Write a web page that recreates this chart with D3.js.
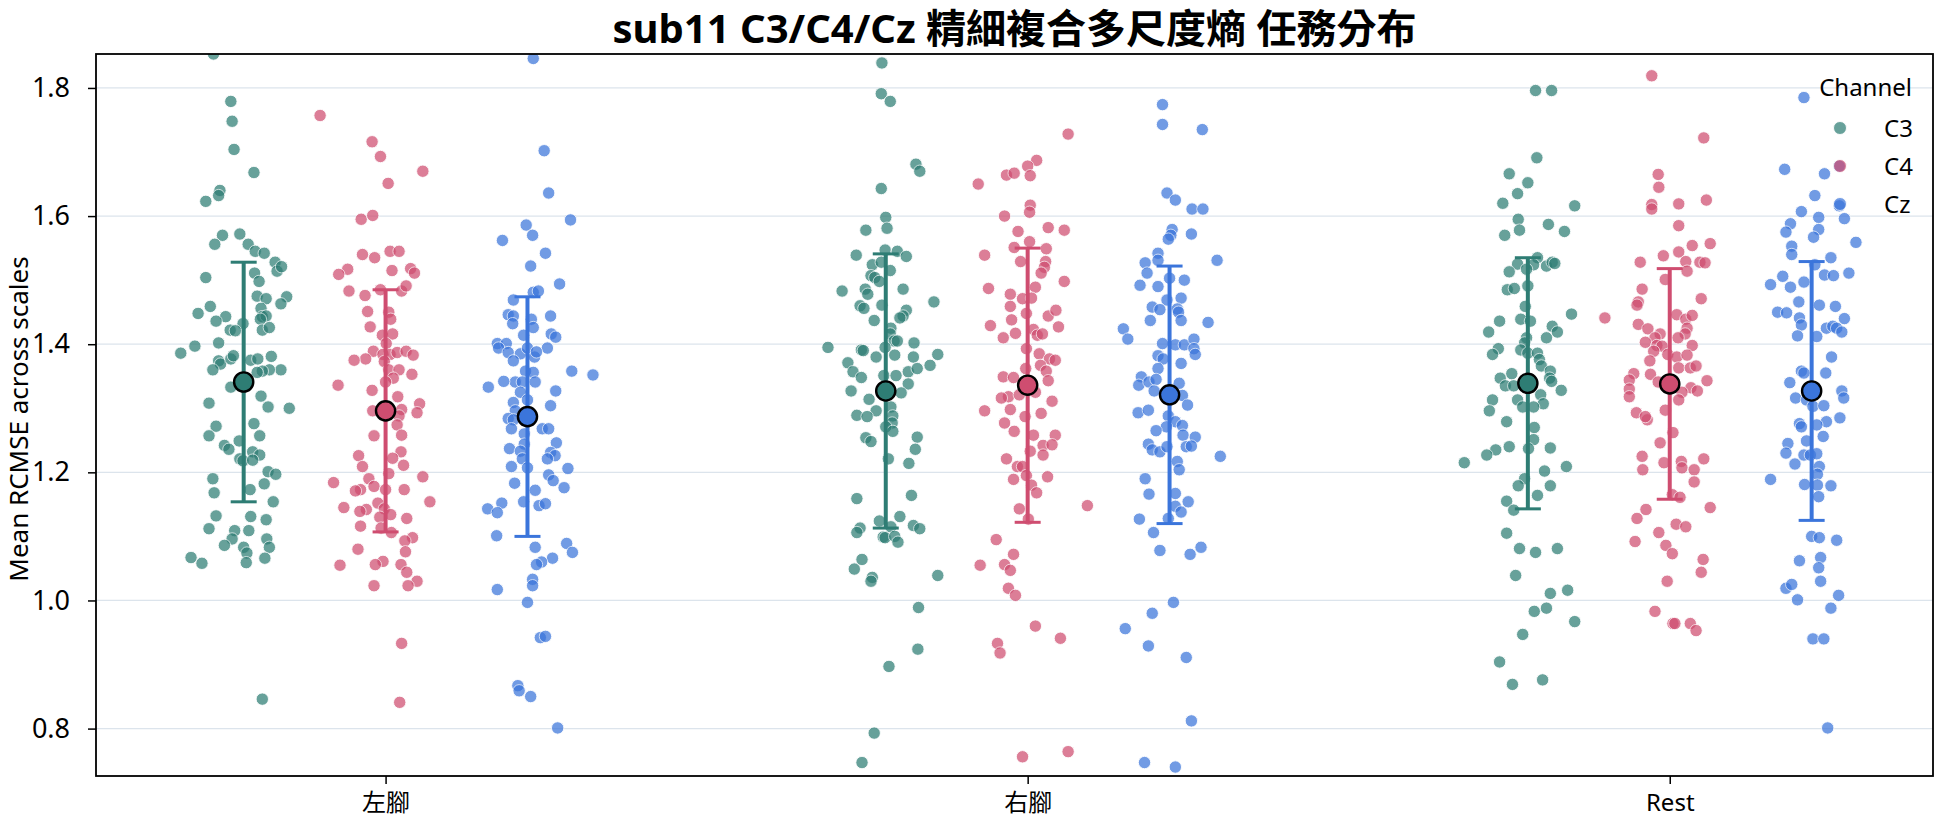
<!DOCTYPE html>
<html><head><meta charset="utf-8">
<script src="https://cdn.jsdelivr.net/npm/d3@7"></script>
<style>
body{margin:0;background:#fff;}
text{font-family:'Noto Sans','Noto Sans CJK TC',sans-serif;fill:#000;}
</style>
</head><body>
<script>
// ---------------- data ----------------
const titleText = "sub11 C3/C4/Cz 精細複合多尺度熵 任務分布";
const yLabel = "Mean RCMSE across scales";
const legendTitle = "Channel";
const categories = ["左腳", "右腳", "Rest"];
const channels = ["C3", "C4", "Cz"];
const yTicks = [0.8, 1.0, 1.2, 1.4, 1.6, 1.8];

const meanC3 = [1.341, 1.327, 1.339];
const meanC4 = [1.296, 1.336, 1.338];
const meanCz = [1.287, 1.321, 1.327];
const sdC3 = [0.187, 0.214, 0.196];
const sdC4 = [0.189, 0.214, 0.180];
const sdCz = [0.187, 0.201, 0.202];

const valC3Left = [1.853,1.779,1.748,1.704,1.668,1.640,1.632,1.623,1.570,1.556,1.572,1.556,1.545,1.542,1.528,1.514,1.521,1.511,1.498,1.504,1.475,1.471,1.474,1.463,1.456,1.459,1.448,1.443,1.436,1.443,1.444,1.439,1.432,1.422,1.421,1.422,1.426,1.402,1.397,1.386,1.374,1.369,1.360,1.377,1.382,1.375,1.377,1.381,1.360,1.360,1.358,1.356,1.333,1.319,1.308,1.302,1.300,1.276,1.272,1.257,1.257,1.249,1.242,1.236,1.232,1.227,1.221,1.218,1.219,1.201,1.197,1.190,1.173,1.182,1.168,1.154,1.132,1.131,1.126,1.112,1.109,1.096,1.109,1.086,1.083,1.096,1.083,1.074,1.059,1.066,1.067,1.058,0.846];
const jitC3Left = [-0.047,-0.020,-0.018,-0.015,0.016,-0.037,-0.039,-0.059,-0.033,-0.045,-0.006,0.007,0.018,0.032,0.049,0.052,0.059,0.017,0.024,-0.059,0.021,0.035,0.067,0.058,0.027,-0.052,-0.071,-0.028,-0.043,0.029,0.035,0.026,-0.001,-0.021,-0.013,0.029,0.040,-0.039,-0.076,-0.098,-0.039,-0.036,-0.048,-0.020,-0.016,0.011,0.022,0.043,0.058,0.040,0.029,0.021,-0.020,0.027,-0.054,0.038,0.071,0.016,-0.043,-0.054,0.025,-0.007,-0.030,-0.023,0.014,0.025,-0.006,-0.001,0.014,0.038,0.050,-0.048,0.010,0.032,-0.046,0.046,-0.043,0.011,0.035,-0.054,-0.014,-0.018,0.008,-0.030,0.000,0.036,0.040,0.005,0.004,0.033,-0.082,-0.065,0.029];

const valC4Left = [1.757,1.716,1.693,1.670,1.651,1.595,1.601,1.540,1.535,1.545,1.545,1.515,1.518,1.511,1.517,1.509,1.483,1.476,1.485,1.483,1.491,1.451,1.450,1.439,1.427,1.414,1.416,1.401,1.389,1.377,1.375,1.384,1.384,1.387,1.389,1.383,1.373,1.360,1.360,1.353,1.347,1.341,1.336,1.328,1.318,1.307,1.293,1.298,1.296,1.288,1.274,1.258,1.257,1.232,1.222,1.226,1.209,1.211,1.198,1.193,1.184,1.190,1.173,1.171,1.178,1.173,1.173,1.154,1.145,1.142,1.139,1.152,1.143,1.134,1.130,1.128,1.116,1.113,1.106,1.098,1.093,1.076,1.080,1.055,1.061,1.056,1.056,1.044,1.030,1.023,1.023,0.933,0.841];
const jitC4Left = [-0.102,-0.021,-0.008,0.058,0.004,-0.038,-0.020,-0.036,-0.017,0.007,0.021,0.010,0.039,0.045,-0.059,-0.073,-0.057,-0.032,-0.008,0.025,0.032,-0.028,0.005,0.008,-0.024,-0.005,0.011,0.001,-0.019,-0.031,-0.049,-0.004,0.007,0.018,0.032,0.043,-0.002,0.005,0.021,0.041,0.012,0.000,-0.074,-0.021,0.019,0.053,0.049,0.025,-0.020,0.021,0.018,0.025,-0.018,0.024,0.011,-0.042,-0.036,0.028,0.005,0.058,-0.081,-0.026,-0.039,-0.047,-0.018,0.000,0.029,0.069,-0.065,-0.030,-0.040,-0.012,-0.002,0.008,-0.009,0.033,-0.039,-0.007,0.009,0.042,0.030,0.031,-0.043,-0.071,-0.004,-0.016,0.024,0.033,0.049,0.035,-0.018,0.025,0.022];

const valCzLeft = [1.846,1.702,1.636,1.594,1.586,1.570,1.562,1.542,1.522,1.494,1.481,1.483,1.469,1.444,1.446,1.444,1.432,1.439,1.426,1.414,1.416,1.411,1.401,1.401,1.394,1.387,1.385,1.374,1.394,1.394,1.380,1.388,1.358,1.352,1.358,1.356,1.341,1.342,1.333,1.341,1.341,1.325,1.327,1.313,1.309,1.304,1.296,1.284,1.282,1.268,1.268,1.268,1.260,1.246,1.244,1.237,1.233,1.231,1.226,1.221,1.221,1.209,1.207,1.206,1.196,1.187,1.176,1.183,1.172,1.154,1.152,1.148,1.151,1.143,1.137,1.101,1.083,1.089,1.075,1.066,1.060,1.056,1.033,1.023,1.017,0.997,0.942,0.944,0.867,0.859,0.850,0.801];
const jitCzLeft = [0.009,0.026,0.033,0.067,-0.002,0.008,-0.039,0.028,0.005,0.050,0.009,0.017,-0.022,0.036,-0.030,-0.022,-0.023,0.006,0.009,-0.006,0.037,0.044,-0.047,-0.033,-0.045,-0.030,-0.011,-0.022,0.031,0.000,0.011,0.014,0.069,0.102,-0.003,0.009,-0.019,-0.037,-0.061,-0.008,0.012,-0.011,0.044,0.000,-0.022,0.036,-0.019,-0.030,-0.022,-0.025,0.023,0.033,-0.005,0.045,-0.005,-0.028,-0.011,0.036,0.043,0.031,-0.008,-0.025,0.000,0.063,0.033,0.040,0.057,-0.020,0.012,-0.006,-0.040,0.018,0.028,-0.062,-0.047,-0.048,0.012,0.061,0.070,0.039,0.022,0.014,0.008,0.008,-0.047,0.000,0.020,0.028,-0.015,-0.013,0.005,0.047];

const valC3Right = [1.839,1.791,1.779,1.681,1.670,1.643,1.598,1.581,1.578,1.539,1.547,1.545,1.537,1.524,1.528,1.515,1.507,1.504,1.498,1.486,1.483,1.486,1.478,1.466,1.460,1.456,1.461,1.453,1.444,1.441,1.437,1.425,1.416,1.405,1.405,1.402,1.395,1.391,1.390,1.395,1.380,1.383,1.380,1.384,1.371,1.357,1.348,1.351,1.351,1.357,1.362,1.367,1.338,1.327,1.324,1.314,1.302,1.296,1.289,1.287,1.288,1.277,1.271,1.264,1.254,1.248,1.255,1.236,1.221,1.214,1.159,1.164,1.131,1.124,1.113,1.106,1.117,1.112,1.099,1.098,1.115,1.100,1.091,1.064,1.049,1.036,1.030,1.039,0.989,0.924,0.897,0.793,0.747];
const jitC3Right = [-0.006,-0.007,0.007,0.047,0.053,-0.007,0.000,0.002,-0.031,-0.046,-0.001,0.018,0.032,-0.021,-0.007,0.007,-0.023,-0.017,-0.010,0.027,-0.068,-0.032,-0.028,0.075,-0.040,-0.034,-0.006,0.032,0.027,0.022,-0.018,0.008,0.007,0.013,0.018,0.044,-0.090,-0.038,-0.035,-0.001,-0.015,0.014,0.043,0.081,-0.059,-0.051,-0.038,-0.003,0.016,0.035,0.049,0.069,0.035,-0.054,0.024,-0.026,0.008,-0.015,-0.045,-0.029,0.011,0.010,0.000,0.011,-0.031,-0.023,0.049,0.046,0.004,0.036,-0.045,0.040,0.022,-0.010,-0.040,-0.045,0.043,0.053,-0.004,-0.001,0.008,0.014,0.019,-0.037,-0.049,-0.021,-0.023,0.081,0.051,0.050,0.005,-0.018,-0.037];

const valC4Right = [1.728,1.687,1.678,1.664,1.667,1.663,1.650,1.617,1.606,1.600,1.582,1.576,1.578,1.560,1.551,1.549,1.539,1.529,1.529,1.520,1.511,1.498,1.487,1.489,1.478,1.471,1.472,1.459,1.448,1.444,1.453,1.438,1.429,1.427,1.410,1.417,1.423,1.414,1.416,1.393,1.385,1.377,1.375,1.367,1.358,1.343,1.362,1.349,1.348,1.325,1.318,1.316,1.321,1.311,1.296,1.298,1.292,1.287,1.277,1.264,1.258,1.258,1.242,1.243,1.233,1.227,1.221,1.209,1.209,1.195,1.189,1.193,1.180,1.168,1.148,1.143,1.127,1.095,1.072,1.055,1.056,1.047,1.019,1.008,0.960,0.941,0.933,0.918,0.756,0.764];
const jitC4Right = [0.063,0.014,0.000,-0.033,-0.021,0.004,-0.077,0.004,0.003,-0.036,0.032,-0.015,0.057,0.003,-0.021,0.029,-0.067,-0.011,0.028,0.026,0.021,0.057,-0.061,0.012,-0.027,-0.008,0.006,-0.027,-0.002,0.032,0.044,-0.025,-0.058,0.048,-0.038,-0.019,0.009,0.015,0.023,-0.002,0.018,0.034,0.043,0.020,0.029,0.032,-0.003,-0.038,-0.022,0.012,-0.030,-0.041,-0.013,0.038,-0.067,-0.027,0.021,-0.004,-0.036,-0.021,0.009,0.043,0.024,0.038,0.004,0.024,-0.033,-0.016,-0.008,-0.002,-0.022,0.031,0.006,0.014,0.093,-0.013,0.001,-0.049,-0.022,-0.074,-0.036,-0.027,-0.030,-0.019,0.012,0.051,-0.047,-0.043,-0.008,0.063];

const valCzRight = [1.774,1.743,1.735,1.636,1.625,1.611,1.611,1.579,1.570,1.564,1.572,1.542,1.531,1.527,1.511,1.531,1.492,1.490,1.503,1.500,1.469,1.472,1.458,1.454,1.455,1.450,1.437,1.437,1.434,1.424,1.408,1.401,1.399,1.399,1.408,1.393,1.384,1.382,1.377,1.370,1.362,1.349,1.336,1.341,1.345,1.327,1.339,1.320,1.305,1.293,1.297,1.288,1.279,1.273,1.271,1.265,1.258,1.255,1.244,1.235,1.232,1.240,1.240,1.241,1.225,1.217,1.204,1.190,1.166,1.167,1.154,1.147,1.138,1.128,1.127,1.106,1.078,1.072,1.083,0.997,0.980,0.956,0.929,0.911,0.812,0.747,0.740];
const jitCzRight = [-0.011,-0.011,0.051,-0.004,0.009,0.035,0.052,0.004,0.002,-0.002,0.034,-0.018,-0.018,-0.038,-0.035,0.074,-0.046,-0.018,0.000,0.023,-0.004,0.018,-0.027,-0.015,0.012,0.014,0.018,-0.030,0.060,-0.072,-0.065,-0.011,0.009,0.023,0.038,0.038,0.040,-0.018,-0.010,0.018,-0.018,-0.044,-0.048,-0.032,-0.021,-0.024,0.015,0.020,0.028,-0.049,-0.033,-0.002,0.009,0.020,-0.005,-0.021,0.021,0.040,-0.033,-0.027,-0.015,-0.004,0.026,0.034,0.079,0.012,0.015,-0.038,-0.032,0.009,0.029,0.009,0.018,-0.002,-0.047,-0.025,-0.015,0.032,0.049,0.006,-0.027,-0.069,-0.033,0.026,0.034,-0.039,0.009];

const valC3Rest = [1.796,1.796,1.691,1.666,1.652,1.635,1.620,1.616,1.595,1.578,1.570,1.587,1.576,1.535,1.525,1.524,1.522,1.528,1.526,1.513,1.517,1.485,1.487,1.491,1.459,1.447,1.436,1.439,1.436,1.419,1.428,1.419,1.410,1.410,1.402,1.393,1.384,1.391,1.386,1.386,1.376,1.366,1.358,1.347,1.342,1.328,1.354,1.347,1.335,1.335,1.321,1.313,1.313,1.307,1.296,1.302,1.302,1.279,1.270,1.251,1.240,1.237,1.238,1.235,1.227,1.215,1.209,1.202,1.179,1.190,1.179,1.164,1.155,1.141,1.105,1.081,1.075,1.081,1.039,1.011,1.016,0.988,0.983,0.967,0.947,0.904,0.869,0.876];
const jitC3Rest = [0.012,0.037,0.014,-0.029,0.000,-0.016,-0.039,0.073,-0.015,-0.013,-0.036,0.032,0.057,0.015,-0.016,0.009,0.029,0.038,0.042,-0.029,-0.002,-0.032,-0.021,0.000,-0.004,0.068,-0.044,-0.011,0.004,-0.061,0.038,0.046,0.029,-0.002,-0.005,-0.046,-0.055,-0.011,0.000,0.015,0.018,0.021,0.035,0.034,0.037,0.052,-0.025,-0.043,-0.035,-0.022,0.020,-0.055,-0.016,0.024,-0.060,-0.008,0.009,-0.033,0.010,0.009,-0.029,0.001,0.035,-0.050,-0.064,-0.099,0.060,0.026,0.035,-0.005,-0.015,0.015,-0.033,-0.022,-0.033,-0.013,0.012,0.046,-0.019,0.035,0.062,0.029,0.010,0.073,-0.008,-0.044,-0.024,0.023];

const valC4Rest = [1.819,1.722,1.665,1.645,1.618,1.611,1.619,1.625,1.585,1.554,1.557,1.538,1.544,1.528,1.529,1.514,1.528,1.527,1.501,1.486,1.466,1.461,1.471,1.441,1.431,1.424,1.446,1.439,1.445,1.425,1.416,1.416,1.410,1.410,1.403,1.398,1.397,1.398,1.389,1.384,1.380,1.383,1.374,1.353,1.363,1.363,1.366,1.354,1.344,1.330,1.318,1.341,1.343,1.332,1.327,1.325,1.313,1.297,1.293,1.282,1.287,1.262,1.246,1.225,1.204,1.215,1.217,1.207,1.221,1.204,1.185,1.165,1.161,1.142,1.145,1.128,1.119,1.115,1.106,1.092,1.086,1.073,1.064,1.044,1.030,0.983,0.964,0.964,0.964,0.953];
const jitC4Rest = [-0.028,0.053,-0.018,-0.017,-0.028,-0.028,0.014,0.057,0.014,0.035,0.063,-0.010,0.014,-0.046,0.025,0.027,0.047,0.055,-0.007,-0.043,-0.049,-0.051,0.049,-0.101,-0.049,-0.034,0.011,0.025,0.035,0.027,0.024,-0.015,-0.023,0.013,-0.038,-0.020,-0.012,0.035,-0.025,-0.003,0.011,0.027,-0.031,-0.030,0.014,0.032,0.041,-0.056,-0.063,-0.063,-0.063,-0.018,0.058,0.033,0.043,0.019,0.014,-0.007,-0.052,-0.035,-0.038,0.005,-0.015,-0.043,-0.042,-0.009,0.018,0.019,0.053,0.038,0.038,0.004,0.016,-0.037,0.063,-0.051,0.010,0.025,-0.017,-0.054,-0.006,0.004,0.052,0.049,-0.004,-0.023,0.005,0.008,0.032,0.041];

const valCzRest = [1.785,1.673,1.666,1.678,1.632,1.616,1.607,1.598,1.596,1.588,1.575,1.579,1.567,1.559,1.553,1.540,1.535,1.524,1.506,1.493,1.489,1.497,1.508,1.507,1.511,1.466,1.461,1.459,1.450,1.449,1.441,1.430,1.440,1.425,1.428,1.425,1.419,1.413,1.412,1.380,1.358,1.355,1.355,1.340,1.327,1.316,1.316,1.313,1.303,1.304,1.285,1.279,1.276,1.271,1.274,1.256,1.249,1.245,1.230,1.213,1.227,1.227,1.229,1.209,1.197,1.189,1.181,1.180,1.179,1.162,1.100,1.098,1.094,1.062,1.067,1.051,1.019,1.025,1.030,1.001,1.008,0.988,0.940,0.940,0.801];
const jitCzRest = [-0.012,-0.042,0.020,0.043,0.005,0.043,-0.016,0.011,0.051,-0.033,-0.040,0.011,0.003,0.069,-0.031,-0.031,0.030,0.005,-0.045,-0.064,-0.033,-0.012,0.020,0.034,0.058,-0.020,0.012,0.037,-0.053,-0.039,-0.019,-0.016,0.051,0.023,0.033,0.039,0.047,-0.022,0.008,0.031,-0.016,-0.012,0.022,-0.034,0.047,0.050,-0.025,-0.008,0.002,0.019,0.044,0.023,-0.019,-0.016,0.008,0.018,-0.008,-0.037,-0.040,-0.026,-0.012,-0.002,0.008,0.012,0.009,-0.064,-0.011,0.009,0.030,0.011,0.000,0.012,0.039,-0.019,0.014,0.011,-0.040,-0.031,0.014,-0.022,0.042,0.030,0.002,0.019,0.025];

// ---------------- styles / layout ----------------
const colors = ["#2e7d74", "#cf4d70", "#3b75db"];
const W = 1944, H = 827;
const plot = {left: 96, right: 1933, top: 54, bottom: 776};
const hueOffset = [-0.221, 0, 0.221];

const valuesByChannel = [[valC3Left, valC3Right, valC3Rest],[valC4Left, valC4Right, valC4Rest],[valCzLeft, valCzRight, valCzRest]];
const jitterByChannel = [[jitC3Left, jitC3Right, jitC3Rest],[jitC4Left, jitC4Right, jitC4Rest],[jitCzLeft, jitCzRight, jitCzRest]];
const meansByChannel = [meanC3, meanC4, meanCz];
const sdByChannel = [sdC3, sdC4, sdCz];

const x = d3.scaleLinear().domain([-0.451, 2.41]).range([plot.left, plot.right]);
const y = d3.scaleLinear().domain([0.726, 1.853]).range([plot.bottom, plot.top]);

const svg = d3.select("body").append("svg").attr("width", W).attr("height", H);
svg.append("rect").attr("width", W).attr("height", H).attr("fill", "#fff");

svg.append("defs").append("clipPath").attr("id", "clip")
  .append("rect").attr("x", plot.left).attr("y", plot.top)
  .attr("width", plot.right - plot.left).attr("height", plot.bottom - plot.top);

// grid
svg.append("g").selectAll("line").data(yTicks).join("line")
  .attr("x1", plot.left).attr("x2", plot.right)
  .attr("y1", d => y(d)).attr("y2", d => y(d))
  .attr("stroke", "#dce4ec").attr("stroke-width", 1.3);

// points
const pts = [];
channels.forEach((ch, h) => {
  categories.forEach((cat, c) => {
    const vals = valuesByChannel[h][c], jit = jitterByChannel[h][c];
    vals.forEach((v, i) => pts.push({h, c, v, j: jit[i] ?? 0}));
  });
});
const gPts = svg.append("g").attr("clip-path", "url(#clip)");
gPts.selectAll("circle").data(pts).join("circle")
  .attr("cx", d => x(d.c + hueOffset[d.h] + d.j))
  .attr("cy", d => y(d.v))
  .attr("r", 6.2)
  .attr("fill", d => colors[d.h])
  .attr("stroke", "#fff").attr("stroke-width", 0.9)
  .attr("opacity", 0.72);

// error bars + means
const summ = [];
channels.forEach((ch, h) => categories.forEach((cat, c) =>
  summ.push({h, c, m: meansByChannel[h][c], s: sdByChannel[h][c]})));
const gE = svg.append("g");
gE.selectAll("line.bar").data(summ).join("line").attr("class", "bar")
  .attr("x1", d => x(d.c + hueOffset[d.h])).attr("x2", d => x(d.c + hueOffset[d.h]))
  .attr("y1", d => y(d.m - d.s)).attr("y2", d => y(d.m + d.s))
  .attr("stroke", d => colors[d.h]).attr("stroke-width", 4);
["lo", "hi"].forEach(k => {
  gE.selectAll("line.cap" + k).data(summ).join("line").attr("class", "cap" + k)
    .attr("x1", d => x(d.c + hueOffset[d.h]) - 13).attr("x2", d => x(d.c + hueOffset[d.h]) + 13)
    .attr("y1", d => y(k === "lo" ? d.m - d.s : d.m + d.s))
    .attr("y2", d => y(k === "lo" ? d.m - d.s : d.m + d.s))
    .attr("stroke", d => colors[d.h]).attr("stroke-width", 3);
});
gE.selectAll("circle").data(summ).join("circle")
  .attr("cx", d => x(d.c + hueOffset[d.h])).attr("cy", d => y(d.m))
  .attr("r", 9.6).attr("fill", d => colors[d.h])
  .attr("stroke", "#000").attr("stroke-width", 2.4);

// frame
svg.append("rect").attr("x", plot.left).attr("y", plot.top)
  .attr("width", plot.right - plot.left).attr("height", plot.bottom - plot.top)
  .attr("fill", "none").attr("stroke", "#000").attr("stroke-width", 1.8);

// axes
const yAxis = svg.append("g").attr("transform", `translate(${plot.left},0)`)
  .call(d3.axisLeft(y).tickValues(yTicks).tickFormat(d3.format(".1f")).tickSize(8).tickPadding(18));
const xAxis = svg.append("g").attr("transform", `translate(0,${plot.bottom})`)
  .call(d3.axisBottom(x).tickValues([0, 1, 2]).tickFormat(i => categories[i]).tickSize(8).tickPadding(10));
[yAxis, xAxis].forEach(g => {
  g.select(".domain").remove();
  g.selectAll(".tick line").attr("stroke", "#000").attr("stroke-width", 1.5);
  g.selectAll(".tick text").attr("fill", "#000")
    .attr("font-family", "'Noto Sans','Noto Sans CJK TC',sans-serif");
});
yAxis.selectAll(".tick text").attr("font-size", 27);
xAxis.selectAll(".tick text").attr("font-size", 24);

// y label
svg.append("text").attr("transform", `translate(28,${(plot.top + plot.bottom) / 2 + 4}) rotate(-90)`)
  .attr("text-anchor", "middle").attr("font-size", 26)
  .text(yLabel);

// title
svg.append("text").attr("x", (plot.left + plot.right) / 2).attr("y", 43)
  .attr("text-anchor", "middle").attr("font-size", 40).attr("font-weight", "bold")
  .text(titleText);

// legend
const lg = svg.append("g");
lg.append("text").attr("x", 1912).attr("y", 96).attr("text-anchor", "end")
  .attr("font-size", 24).text(legendTitle);
channels.forEach((ch, h) => {
  const cy = 128 + h * 38;
  lg.append("circle").attr("cx", 1840).attr("cy", cy).attr("r", 6.5)
    .attr("fill", colors[h]).attr("stroke", "#fff").attr("stroke-width", 0.9).attr("opacity", 0.72);
  lg.append("text").attr("x", 1884).attr("y", cy + 8.5).attr("font-size", 24).text(ch);
});
</script>
</body></html>
